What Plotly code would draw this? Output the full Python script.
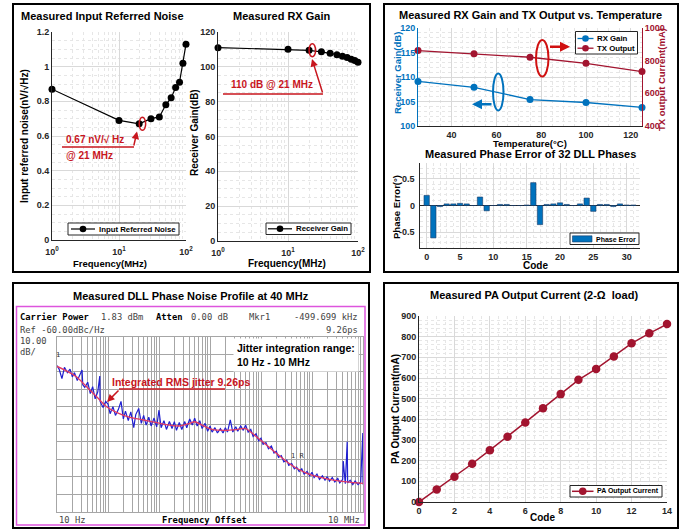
import plotly.graph_objects as go

W, H = 680, 530


def px(x):
    return x / W


def py(y):
    return 1 - y / H


# ---------------- data ----------------
noise_freq_mhz = [1, 10, 20, 30, 40, 50, 60, 70, 80, 90, 100]
noise_nv_rthz = [0.87, 0.69, 0.67, 0.70, 0.71, 0.78, 0.82, 0.88, 0.91, 1.02, 1.13]

gain_freq_mhz = [1, 10, 20, 30, 40, 50, 60, 70, 80, 90, 100]
rx_gain_db = [111.0, 110.1, 109.5, 108.6, 107.8, 107.0, 106.1, 105.3, 104.4, 103.6, 102.7]

temp_c = [25, 50, 75, 100, 125]
rx_gain_vs_temp = [109.1, 107.9, 105.4, 104.8, 103.8]
tx_current_vs_temp = [862, 843, 821, 784, 733]

dll_code = list(range(32))
phase_error_deg = [0.19, -0.61, -0.02, 0.03, 0.03, 0.04, 0.03, 0.0,
                   0.16, -0.10, 0.0, 0.02, 0.02, 0.0, 0.0, 0.01,
                   0.43, -0.36, 0.02, 0.03, 0.05, 0.02, 0.0, 0.03,
                   0.14, -0.11, 0.02, 0.02, -0.02, 0.03, 0.01, 0.01]
phase_err_range = [-0.8, 0.8]
phase_err_ticks = [-0.5, 0, 0.5]
phase_err_ticktext = ["-0.5", "0", "0.5"]

pa_code = list(range(15))
pa_current_ma = [0, 61, 122, 185, 251, 316, 385, 454, 522, 591, 644, 704, 768, 816, 861]

pn_blue_freq = [
    10, 11, 12.5, 14, 16, 18, 20, 22, 25, 28, 31, 32, 35, 40, 45, 50, 56, 63, 69, 70, 80, 90,
    100, 110, 125, 140, 160, 180, 200, 220, 250, 280, 320, 350, 400, 450, 500, 560, 630, 700, 800, 900,
    1000, 1100, 1250, 1400, 1600, 1800, 2000, 2200, 2500, 2800, 3200, 3500, 4000, 4500, 5000, 5600, 6300, 7000, 8000, 9000,
    10000, 11000, 12500, 14000, 16000, 18000, 20000, 22000, 25000, 28000, 32000, 35000, 40000, 45000, 50000, 56000, 63000, 70000, 80000, 90000,
    100000, 110000, 125000, 140000, 160000, 180000, 200000, 220000, 250000, 280000, 320000, 350000, 400000, 450000, 500000, 560000, 630000, 700000, 800000, 900000,
    1.0e6, 1.1e6, 1.25e6, 1.4e6, 1.6e6, 1.8e6, 2.0e6, 2.2e6, 2.5e6, 2.8e6, 3.2e6, 3.5e6, 4.0e6, 4.1e6, 4.5e6, 4.9e6, 5.0e6, 5.6e6, 6.3e6, 7.0e6, 8.0e6, 9.0e6, 9.9e6, 1.0e7,
]
pn_blue_dbc = [
    -76.5, -78.5, -84.0, -77.5, -80.5, -78.5, -83.0, -80.5, -85.0, -82.0, -79.0, -87.5, -89.0, -86.0, -92.5, -88.5, -95.5, -91.5, -82.5, -97.0, -100.5, -97.0,
    -98.5, -104.0, -100.0, -105.0, -101.5, -97.0, -107.0, -102.5, -108.0, -103.0, -112.0, -104.5, -101.0, -109.5, -105.0, -110.5, -106.0, -111.0, -106.5, -111.5,
    -102.0, -112.0, -108.0, -113.0, -108.5, -112.5, -108.5, -113.5, -109.0, -113.0, -108.5, -112.0, -107.0, -110.5, -106.5, -111.0, -108.0, -112.5, -109.5, -114.0,
    -111.0, -114.5, -112.0, -115.0, -112.5, -115.0, -112.0, -114.5, -107.5, -114.5, -111.5, -114.0, -111.0, -113.5, -110.5, -114.5, -113.0, -117.0, -115.5, -119.5,
    -118.0, -121.5, -120.5, -124.0, -122.5, -126.5, -125.5, -129.0, -128.0, -131.5, -130.5, -133.5, -132.5, -135.5, -134.5, -137.0, -135.5, -138.5, -137.0, -139.5,
    -137.5, -140.5, -138.5, -141.5, -139.5, -142.0, -140.0, -142.5, -140.5, -143.0, -141.0, -143.5, -141.5, -131.0, -144.0, -120.0, -143.5, -142.0, -144.5, -142.5, -144.5, -143.0, -115.0, -144.5,
]
pn_red_freq = [10, 15, 24, 38, 60, 94, 150, 270, 500, 900, 1600, 2600, 4000, 5000, 7500, 11000,
               20000, 35000, 50000, 80000, 130000, 200000, 320000, 500000, 800000, 1.4e6, 2.6e6, 4.8e6, 1e7]
pn_red_dbc = [-77, -79.4, -82.9, -88.6, -94.3, -100, -103.4, -106.1, -107.6, -109.1, -110.5, -111, -109.5, -108.6, -111, -113,
              -113.5, -113, -112.5, -117, -122, -126.6, -131.4, -135.2, -138.1, -140.3, -141.9, -142.9, -143.8]

# ---------------- styles ----------------
ARIAL = "Arial, Liberation Sans, sans-serif"
MONO = "DejaVu Sans Mono, Liberation Mono, monospace"
GRID = "#d9d9d9"
MINOR = "#e6e6e6"
AXC = "#262626"
BLUE = "#0072BD"
DRED = "#A2142F"
ARED = "#C8161E"


def tickfont(color=AXC):
    return dict(size=9, color=color, family=ARIAL, weight="bold")


def axis(domain, rng, **kw):
    d = dict(domain=domain, range=rng, showgrid=True, gridcolor=GRID, gridwidth=1,
             zeroline=False, showline=True, linecolor=AXC, linewidth=1, ticks="",
             tickfont=tickfont(), fixedrange=True, automargin=False)
    d.update(kw)
    return d


log_minor = [m * 10 ** k for k in range(0, 2) for m in range(2, 10)]

fig = go.Figure()

# Panel 1
fig.add_trace(go.Scatter(x=noise_freq_mhz, y=noise_nv_rthz, mode="lines+markers",
                         name="Input Referred Noise", line=dict(color="black", width=1.2),
                         marker=dict(color="black", size=7), cliponaxis=False,
                         xaxis="x", yaxis="y", showlegend=False))
# Panel 2
fig.add_trace(go.Scatter(x=gain_freq_mhz, y=rx_gain_db, mode="lines+markers",
                         name="Receiver Gain", line=dict(color="black", width=1.2),
                         marker=dict(color="black", size=7), cliponaxis=False,
                         xaxis="x2", yaxis="y2", showlegend=False))
# Panel 3
fig.add_trace(go.Scatter(x=temp_c, y=rx_gain_vs_temp, mode="lines+markers", name="RX Gain",
                         line=dict(color=BLUE, width=1.3), marker=dict(color=BLUE, size=7),
                         cliponaxis=False, xaxis="x3", yaxis="y3", showlegend=False))
fig.add_trace(go.Scatter(x=temp_c, y=tx_current_vs_temp, mode="lines+markers", name="TX Output",
                         line=dict(color=DRED, width=1.3), marker=dict(color=DRED, size=7),
                         cliponaxis=False, xaxis="x3", yaxis="y4", showlegend=False))
# Panel 4
fig.add_trace(go.Bar(x=dll_code, y=phase_error_deg, name="Phase Error", width=0.8,
                     marker=dict(color=BLUE, line=dict(color="#1b3a66", width=0.6)),
                     xaxis="x5", yaxis="y5", showlegend=False))
# Panel 5 (phase noise)
fig.add_trace(go.Scatter(x=pn_blue_freq, y=pn_blue_dbc, mode="lines", showlegend=False,
                         line=dict(color="#1f1fd0", width=1.2), xaxis="x6", yaxis="y6"))
fig.add_trace(go.Scatter(x=pn_red_freq, y=pn_red_dbc, mode="lines", showlegend=False,
                         line=dict(color="#e23a64", width=1.3, shape="spline", smoothing=0.8),
                         xaxis="x6", yaxis="y6"))
# Panel 6 (PA)
fig.add_trace(go.Scatter(x=pa_code, y=pa_current_ma, mode="lines+markers", name="PA Output Current",
                         line=dict(color=DRED, width=1.5), marker=dict(color=DRED, size=8.5),
                         cliponaxis=False, xaxis="x7", yaxis="y7", showlegend=False))

logtext = ["10<sup>0</sup>", "10<sup>1</sup>", "10<sup>2</sup>"]
spec_vals = [m * 10 ** k for k in range(1, 7) for m in range(1, 10)] + [1e7]

PE_TOP, PE_BOT = 163, 248  # pixel rows of the phase-error plot area

layout = dict(
    width=W, height=H, margin=dict(l=0, r=0, t=0, b=0, autoexpand=False),
    paper_bgcolor="white", plot_bgcolor="white", showlegend=False,
    font=dict(family=ARIAL, color=AXC),
    xaxis=axis([px(52), px(186)], [0, 2], type="log", tickvals=[1, 10, 100], ticktext=logtext,
               ticklabelstandoff=3,
               minor=dict(tickvals=log_minor, showgrid=True, gridcolor=MINOR, griddash="dot")),
    yaxis=axis([py(240), py(32)], [0, 1.2], dtick=0.2,
               minor=dict(dtick=0.05, showgrid=True, gridcolor=MINOR, griddash="dot")),
    xaxis2=axis([px(218), px(358)], [0, 2], type="log", tickvals=[1, 10, 100], ticktext=logtext,
                anchor="y2", ticklabelstandoff=3,
                minor=dict(tickvals=log_minor, showgrid=True, gridcolor=MINOR, griddash="dot")),
    yaxis2=axis([py(241), py(32)], [0, 120], dtick=20, anchor="x2",
                minor=dict(dtick=5, showgrid=True, gridcolor=MINOR, griddash="dot")),
    xaxis3=axis([px(418), px(642)], [25, 125], dtick=20, tick0=0, anchor="y3",
                minor=dict(dtick=5, showgrid=True, gridcolor=MINOR, griddash="dot")),
    yaxis3=axis([py(126), py(28)], [100, 120], dtick=5, anchor="x3", linecolor=BLUE,
                tickfont=tickfont(BLUE),
                minor=dict(dtick=1, showgrid=True, gridcolor=MINOR, griddash="dot")),
    yaxis4=axis([py(126), py(28)], [400, 1000], dtick=200, anchor="x3", overlaying="y3",
                side="right", showgrid=False, linecolor=DRED, tickfont=tickfont(DRED)),
    xaxis5=axis([px(420), px(640)], [-1, 32], dtick=5, tick0=0, anchor="y5",
                minor=dict(dtick=1, showgrid=True, gridcolor=MINOR, griddash="dot")),
    yaxis5=axis([py(PE_BOT), py(PE_TOP)], phase_err_range, anchor="x5", tickmode="array",
                tickvals=phase_err_ticks, showticklabels=False,
                zeroline=True, zerolinecolor=AXC, zerolinewidth=1,
                minor=dict(tickvals=[-0.7, -0.6, -0.4, -0.3, -0.2, -0.1, 0.1, 0.2, 0.3, 0.4, 0.6, 0.7],
                           showgrid=True, gridcolor=MINOR, griddash="dot")),
    xaxis6=dict(domain=[px(57), px(363)], range=[1, 7], type="log", anchor="y6",
                tickmode="array", tickvals=spec_vals, showticklabels=False, ticks="",
                showgrid=True, gridcolor="#a6a6a6", gridwidth=1, zeroline=False, automargin=False,
                showline=True, linecolor="#a6a6a6", mirror=True, fixedrange=True),
    yaxis6=dict(domain=[py(511.7), py(336.7)], range=[-160, -60], dtick=10, anchor="x6",
                showticklabels=False, ticks="", showgrid=True, gridcolor="#a6a6a6", gridwidth=1,
                zeroline=False, showline=True, linecolor="#a6a6a6", mirror=True, fixedrange=True,
                automargin=False),
    xaxis7=axis([px(419), px(667)], [0, 14], dtick=2, anchor="y7",
                minor=dict(dtick=0.5, showgrid=True, gridcolor=MINOR, griddash="dot")),
    yaxis7=axis([py(502), py(316)], [0, 900], dtick=100, anchor="x7",
                minor=dict(dtick=20, showgrid=True, gridcolor=MINOR, griddash="dot")),
)

annotations = []


def txt(x, y, s, size=10, color="black", bold=True, xanchor="center", yanchor="middle",
        angle=0, family=ARIAL, **kw):
    annotations.append(dict(x=px(x), y=py(y), xref="paper", yref="paper", text=s,
                            showarrow=False, xanchor=xanchor, yanchor=yanchor, textangle=angle,
                            font=dict(size=size, color=color, family=family,
                                      weight="bold" if bold else "normal"), **kw))


def arrow(tail, tip, color, width=1.5, head=2, size=1.0):
    annotations.append(dict(x=px(tip[0]), y=py(tip[1]), xref="paper", yref="paper",
                            ax=tail[0] - tip[0], ay=tail[1] - tip[1], axref="pixel",
                            ayref="pixel", showarrow=True, arrowhead=head, arrowsize=size,
                            arrowwidth=width, arrowcolor=color, text=""))


shapes = []


def rect(x0, y0, x1, y1, color="black", width=2, fill=None):
    d = dict(type="rect", xref="paper", yref="paper", x0=px(x0), x1=px(x1),
             y0=py(y1), y1=py(y0), line=dict(color=color, width=width))
    if fill:
        d["fillcolor"] = fill
    shapes.append(d)


def hline(x0, x1, y, color, width=1.5):
    shapes.append(dict(type="line", xref="paper", yref="paper", x0=px(x0), x1=px(x1),
                       y0=py(y), y1=py(y), line=dict(color=color, width=width)))


def dot(cx, cy, r, color):
    shapes.append(dict(type="circle", xref="paper", yref="paper", x0=px(cx - r), x1=px(cx + r),
                       y0=py(cy + r), y1=py(cy - r), fillcolor=color, line=dict(color=color, width=0)))


def legend_line_item(x_line0, x_line1, y, color, label, size, width=1.3, r=3.3):
    hline(x_line0, x_line1, y, color, width)
    dot((x_line0 + x_line1) / 2, y, r, color)
    txt(x_line1 + 1.5, y, label, size=size, xanchor="left")


# phase-error y tick labels, placed through the y5 scale (value -> pixel row)
lo, hi = phase_err_range
for v, t in zip(phase_err_ticks, phase_err_ticktext):
    row = PE_BOT - (v - lo) / (hi - lo) * (PE_BOT - PE_TOP)
    txt(417, row, t, size=9, color=AXC, xanchor="right")

# titles
txt(102, 16, "Measured Input Referred Noise", size=11)
txt(281, 16, "Measured RX Gain", size=11)
txt(530, 15, "Measured RX Gain and TX Output vs. Temperature", size=11)
txt(530, 154, "Measured Phase Error of 32 DLL Phases", size=11)
txt(191, 296, "Measured DLL Phase Noise Profile at 40 MHz", size=11)
txt(534, 295, "Measured PA Output Current (2-Ω  load)", size=11)

# axis titles
txt(110, 263, "Frequency(MHz)", size=9.5)
txt(25, 136, "Input referred noise(nV/√Hz)", size=10, angle=-90)
txt(287, 263, "Frequency(MHz)", size=10)
txt(194, 133, "Receiver Gain(dB)", size=10, angle=-90)
txt(398, 73, "Receiver Gain(dB)", size=9.5, angle=-90, color=BLUE)
txt(662, 80, "TX output Current(mA)", size=9.5, angle=-90, color=DRED)
txt(530, 143, "Temperature(°C)", size=9.5)
txt(396, 207, "Phase Error(°)", size=9.5, angle=-90)
txt(535, 265, "Code", size=10)
txt(395, 409, "PA Output Current(mA)", size=10, angle=-90)
txt(542, 517, "Code", size=10)

# panel 1 callout
txt(64, 140, "0.67 nV/√ Hz", size=10, color=ARED, xanchor="left")
txt(64, 156, "@ 21 MHz", size=10, color=ARED, xanchor="left")
arrow((133.5, 147), (137, 131.5), ARED)
# panel 2 callout
txt(229, 85, "110 dB @ 21 MHz", size=10, color=ARED, xanchor="left")
arrow((323, 94), (312, 59), ARED)
# panel 3 arrows
arrow((493, 104.3), (472, 104.3), BLUE, width=2.5, head=2, size=0.8)
arrow((548.5, 46.7), (570, 46.7), "#d01010", width=2.5, head=2, size=0.8)

# phase-noise screen text
txt(18, 317, "Carrier Power", size=8.8, family=MONO, xanchor="left")
txt(99, 317, "1.83 dBm", size=8.8, family=MONO, bold=False, xanchor="left", color="#444")
txt(154, 317, "Atten", size=8.8, family=MONO, xanchor="left")
txt(189, 317, "0.00 dB", size=8.8, family=MONO, bold=False, xanchor="left", color="#444")
txt(247, 317, "Mkr1", size=8.8, family=MONO, bold=False, xanchor="left", color="#444")
txt(360, 317, "-499.699 kHz", size=8.8, family=MONO, bold=False, xanchor="right", color="#444")
txt(18, 330, "Ref -60.00dBc/Hz", size=8.8, family=MONO, bold=False, xanchor="left", color="#444")
txt(360, 330, "9.26ps", size=8.8, family=MONO, bold=False, xanchor="right", color="#444")
txt(18, 341, "10.00", size=8.8, family=MONO, bold=False, xanchor="left", color="#444")
txt(18, 352, "dB/", size=8.8, family=MONO, bold=False, xanchor="left", color="#444")
txt(57, 520, "10 Hz", size=8.8, family=MONO, bold=False, xanchor="left", color="#444")
txt(204, 520, "Frequency Offset", size=8.8, family=MONO, xanchor="center")
txt(362, 520, "10 MHz", size=8.8, family=MONO, bold=False, xanchor="right", color="#444")
txt(58, 355, "1", size=7, family=MONO, bold=False, color="#333")
txt(297, 456, "1 R", size=7, family=MONO, bold=False, color="#333")
annotations.append(dict(x=px(233), y=py(355), xref="paper", yref="paper", showarrow=False,
                        xanchor="left", yanchor="middle", align="left", bgcolor="white",
                        borderpad=3,
                        text="Jitter integration range:<br>10 Hz - 10 MHz",
                        font=dict(size=10.5, family=ARIAL, weight="bold", color="black")))
txt(110, 382, "Integrated RMS jitter 9.26ps", size=10.5, color=ARED, xanchor="left")
arrow((120, 389), (107, 402), ARED)

# outer frames
rect(13, 4, 370, 272)
rect(384, 4, 678, 272)
rect(13, 283, 369, 528)
rect(384, 283, 678, 528)
rect(16.5, 306.5, 365, 525, color="#dd55dd", width=1.5)
hline(62, 134, 147, ARED)
hline(223, 323, 94, ARED)
hline(119, 225, 389, ARED)
# data-anchored circles
shapes.append(dict(type="circle", xref="x", yref="y", xsizemode="pixel", ysizemode="pixel",
                   xanchor=noise_freq_mhz[2], yanchor=noise_nv_rthz[2],
                   x0=-6.5, x1=6.5, y0=-6.5, y1=6.5, line=dict(color=ARED, width=1.5)))
shapes.append(dict(type="circle", xref="x2", yref="y2", xsizemode="pixel", ysizemode="pixel",
                   xanchor=gain_freq_mhz[2], yanchor=rx_gain_db[2],
                   x0=-6.5, x1=6.5, y0=-6.5, y1=6.5, line=dict(color=ARED, width=1.5)))
# ellipses in temperature panel
shapes.append(dict(type="circle", xref="paper", yref="paper", x0=px(493), x1=px(503.5),
                   y0=py(110.5), y1=py(73.5), line=dict(color=BLUE, width=2)))
shapes.append(dict(type="circle", xref="paper", yref="paper", x0=px(536), x1=px(548.5),
                   y0=py(76.5), y1=py(40), line=dict(color="#d01010", width=2)))

# hand-drawn legends (compact, MATLAB style)
rect(68, 223, 179, 235, color=AXC, width=1, fill="white")
legend_line_item(71, 95, 229, "black", "Input Referred Noise", 7.8, width=1.2)
rect(266, 223, 351, 234.5, color=AXC, width=1, fill="white")
legend_line_item(268, 292, 228.8, "black", "Receiver Gain", 7.8, width=1.2)
rect(575.5, 31.5, 637.5, 54, color=AXC, width=1, fill="white")
legend_line_item(577.5, 593.5, 38.5, BLUE, "RX Gain", 7.8)
legend_line_item(577.5, 593.5, 48.2, DRED, "TX Output", 7.8)
rect(570, 233, 639, 244.5, color=AXC, width=1, fill="white")
rect(572.5, 235.8, 592, 242, color="#1b3a66", width=0.6, fill=BLUE)
txt(593.5, 239, "Phase Error", size=7.0, xanchor="left")
rect(570, 485.5, 662, 497, color=AXC, width=1, fill="white")
legend_line_item(572, 593.5, 491.3, DRED, "PA Output Current", 7.0, width=1.5, r=3.8)

layout["annotations"] = annotations
layout["shapes"] = shapes

fig.update_layout(**layout)
fig.write_html("out.html", config={"displayModeBar": False},
               post_script="document.body.style.margin='0px';document.body.style.padding='0px';")
